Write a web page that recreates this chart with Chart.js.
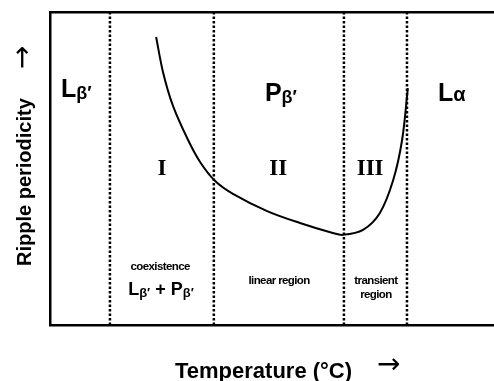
<!DOCTYPE html>
<html>
<head>
<meta charset="utf-8">
<script src="https://cdn.jsdelivr.net/npm/chart.js@4.4.1/dist/chart.umd.min.js"></script>
<style>
  html, body { margin: 0; padding: 0; background: #fff; overflow: hidden; }
  #wrap { position: relative; width: 494px; height: 381px; }
</style>
</head>
<body>
<div id="wrap"><canvas id="rippleChart"></canvas></div>
<script>
// Phase boundaries along the temperature axis (arbitrary units, 0-100)
const boundaryTemps = [13.5, 36.9, 66.2, 80.4];

// Ripple periodicity vs temperature (schematic, arbitrary units)
const curveTemps   = [23.9, 25.5, 27.7, 31.1, 33.8, 37.2, 41.2, 48.9, 56.3, 63.7, 66.0, 70.5, 74.3, 77.3, 79.3, 80.6];
const curvePeriods = [92.0, 80.5, 70.0, 59.1, 52.1, 46.0, 41.9, 36.4, 32.6, 29.4, 28.8, 30.4, 35.8, 46.3, 59.1, 75.7];

// Text annotations placed in data units
const SANS = "'Liberation Sans', Arial, sans-serif";
const SERIF = "'Liberation Serif', 'Times New Roman', serif";
const ARROW = "28px 'DejaVu Sans', sans-serif";
const big = 'bold 25px ' + SANS;
const sub = 'bold 18px ' + SANS;
const mid = 'bold 18px ' + SANS;
const midSub = 'bold 13px ' + SANS;
const small = 'bold 11.5px ' + SANS;
const roman = 'bold 23px ' + SERIF;

const annotations = [
    { x: 5.9,  y: 72.8, parts: [['L', big], ['β′', sub, 2]] },
    { x: 52.0, y: 71.6, parts: [['P', big], ['β′', sub, 2]] },
    { x: 90.5, y: 71.6, parts: [['L', big], ['α', 'bold 20px ' + SANS, 0]] },
    { x: 25.2, y: 47.9, parts: [['I', roman]] },
    { x: 51.4, y: 47.9, parts: [['II', roman]] },
    { x: 72.1, y: 47.9, parts: [['III', roman]] },
    { x: 24.8, y: 17.6, parts: [['coexistence', small]], spacing: '-0.6px' },
    { x: 25.0, y: 9.6,  parts: [['L', mid], ['β′', midSub, 2], [' + ', mid], ['P', mid], ['β′', midSub, 2]] },
    { x: 51.6, y: 13.1, parts: [['linear region', small]], spacing: '-0.6px' },
    { x: 73.4, y: 13.1, parts: [['transient', small]], spacing: '-0.6px' },
    { x: 73.4, y: 8.6,  parts: [['region', small]], spacing: '-0.6px' }
];

// Draws multi-font text centred on (cx, baseline)
function drawParts(ctx, parts, cx, baseline, spacing) {
    ctx.letterSpacing = spacing || '0px';
    let total = 0;
    parts.forEach(p => { ctx.font = p[1]; total += ctx.measureText(p[0]).width; });
    let x = cx - total / 2;
    parts.forEach(p => {
        ctx.font = p[1];
        ctx.fillText(p[0], x, baseline + (p[2] || 0));
        x += ctx.measureText(p[0]).width;
    });
    ctx.letterSpacing = '0px';
}

const labelPlugin = {
    id: 'phaseLabels',
    afterDraw(chart) {
        const ctx = chart.ctx;
        const xs = chart.scales.x, ys = chart.scales.y;
        ctx.save();
        ctx.fillStyle = '#000';
        ctx.textAlign = 'left';
        ctx.textBaseline = 'alphabetic';
        annotations.forEach(a => {
            drawParts(ctx, a.parts, xs.getPixelForValue(a.x), ys.getPixelForValue(a.y), a.spacing);
        });

        // axis titles
        ctx.font = 'bold 22px ' + SANS;
        ctx.fillText('Temperature (°C)', 175, 378);
        ctx.font = ARROW;
        ctx.textBaseline = 'middle';
        ctx.fillText('→', 377, 366);

        ctx.translate(31, 266);
        ctx.rotate(-Math.PI / 2);
        ctx.textBaseline = 'alphabetic';
        ctx.font = 'bold 20px ' + SANS;
        ctx.fillText('Ripple periodicity', 0, 0);
        ctx.font = ARROW;
        ctx.textBaseline = 'middle';
        ctx.fillText('→', 197, -7);
        ctx.restore();
    }
};

const datasets = [{
    data: curveTemps.map((t, i) => ({ x: t, y: curvePeriods[i] })),
    showLine: true,
    borderColor: '#000',
    borderWidth: 2,
    pointRadius: 0,
    tension: 0.35
}];

boundaryTemps.forEach(t => {
    datasets.push({
        data: [{ x: t, y: 0 }, { x: t, y: 100 }],
        showLine: true,
        borderColor: '#000',
        borderWidth: 2.5,
        borderDash: [2.5, 2],
        borderCapStyle: 'butt',
        pointRadius: 0
    });
});

const axisOpts = {
    type: 'linear',
    min: 0,
    max: 100,
    ticks: { display: false },
    grid: { display: false, drawTicks: false },
    border: { display: true, color: '#000', width: 2.5 }
};

new Chart(document.getElementById('rippleChart'), {
    type: 'scatter',
    data: { datasets: datasets },
    options: {
        responsive: true,
        maintainAspectRatio: false,
        animation: false,
        events: [],
        layout: { padding: { left: 50, top: 12, right: 0, bottom: 56 } },
        plugins: { legend: { display: false }, tooltip: { enabled: false } },
        scales: {
            x: Object.assign({ position: 'bottom' }, axisOpts),
            xTop: Object.assign({ position: 'top' }, axisOpts),
            y: Object.assign({ position: 'left' }, axisOpts)
        }
    },
    plugins: [labelPlugin]
});
</script>
</body>
</html>
